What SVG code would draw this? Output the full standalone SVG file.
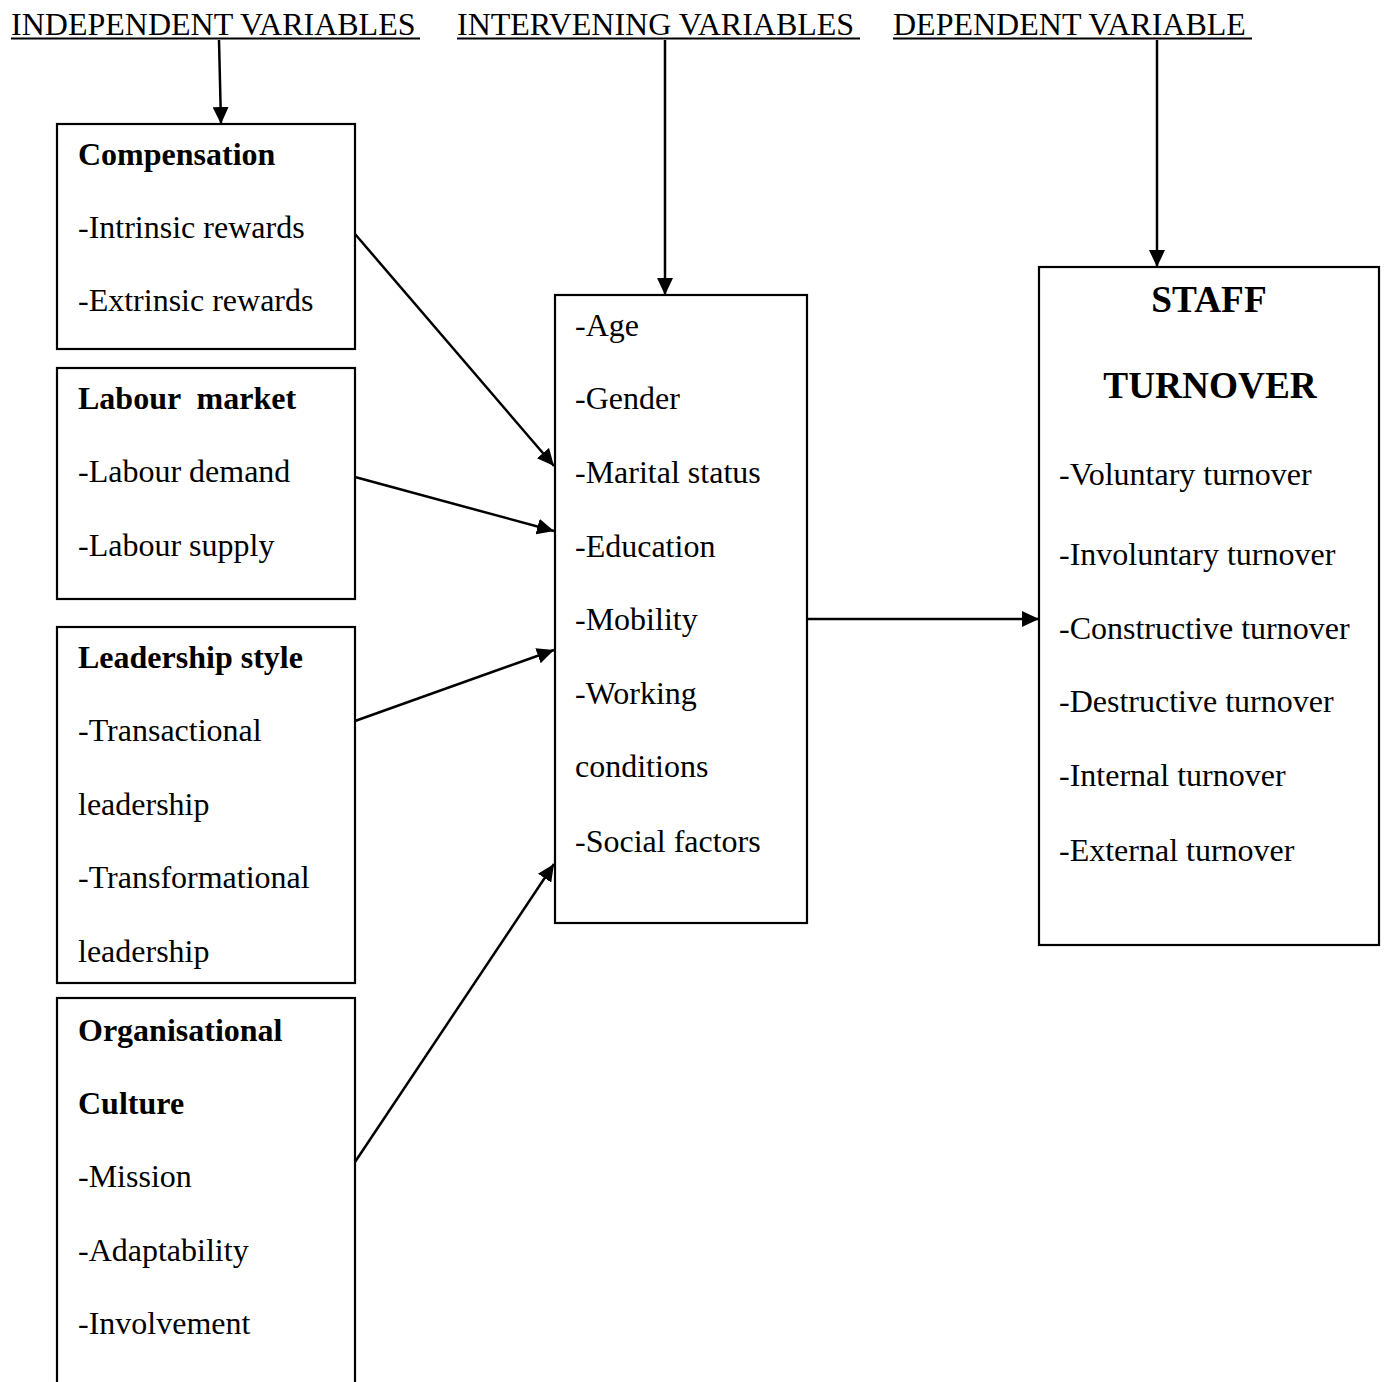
<svg xmlns="http://www.w3.org/2000/svg" width="1384" height="1382" viewBox="0 0 1384 1382">
<style>
text{font-family:"Liberation Serif","Times New Roman",serif;font-size:32px;fill:#000}
.b{font-weight:bold}
.t{font-weight:bold;font-size:37.3px;text-anchor:middle}
.box{fill:#fff;stroke:#000;stroke-width:2.2}
.ul{stroke:#000;stroke-width:2}
.c{stroke:#000;stroke-width:2.5;fill:none;marker-end:url(#ah)}
</style>
<defs>
<marker id="ah" markerUnits="userSpaceOnUse" markerWidth="18" markerHeight="16" refX="17" refY="8" orient="auto">
<path d="M0,0 L17,8 L0,16 Z" fill="#000"/>
</marker>
</defs>
<rect width="1384" height="1382" fill="#fff"/>
<g id="headers">
<text x="11" y="34.5">INDEPENDENT VARIABLES</text>
<line class="ul" x1="11" y1="38.5" x2="420" y2="38.5"/>
<text x="457" y="34.5">INTERVENING VARIABLES</text>
<line class="ul" x1="457" y1="38.5" x2="860" y2="38.5"/>
<text x="893" y="34.5">DEPENDENT VARIABLE</text>
<line class="ul" x1="893" y1="38.5" x2="1252" y2="38.5"/>
</g>
<g id="compensation">
<rect class="box" x="57" y="124" width="298" height="225"/>
<text class="b" x="78" y="165">Compensation</text>
<text x="78" y="238">-Intrinsic rewards</text>
<text x="78" y="311">-Extrinsic rewards</text>
</g>
<g id="labour-market">
<rect class="box" x="57" y="368" width="298" height="231"/>
<text class="b" x="78" y="409" xml:space="preserve">Labour  market</text>
<text x="78" y="482">-Labour demand</text>
<text x="78" y="556">-Labour supply</text>
</g>
<g id="leadership-style">
<rect class="box" x="57" y="627" width="298" height="356"/>
<text class="b" x="78" y="668">Leadership style</text>
<text x="78" y="741">-Transactional</text>
<text x="78" y="815">leadership</text>
<text x="78" y="888">-Transformational</text>
<text x="78" y="962">leadership</text>
</g>
<g id="organisational-culture">
<rect class="box" x="57" y="998" width="298" height="420"/>
<text class="b" x="78" y="1041">Organisational</text>
<text class="b" x="78" y="1114">Culture</text>
<text x="78" y="1187">-Mission</text>
<text x="78" y="1261">-Adaptability</text>
<text x="78" y="1334">-Involvement</text>
</g>
<g id="intervening">
<rect class="box" x="555" y="295" width="252" height="628"/>
<text x="575" y="336">-Age</text>
<text x="575" y="409">-Gender</text>
<text x="575" y="483">-Marital status</text>
<text x="575" y="557">-Education</text>
<text x="575" y="630">-Mobility</text>
<text x="575" y="704">-Working</text>
<text x="575" y="777">conditions</text>
<text x="575" y="852">-Social factors</text>
</g>
<g id="staff-turnover">
<rect class="box" x="1039" y="267" width="340" height="678"/>
<text class="t" x="1209" y="312">STAFF</text>
<text class="t" x="1210" y="398">TURNOVER</text>
<text x="1059" y="485">-Voluntary turnover</text>
<text x="1059" y="565">-Involuntary turnover</text>
<text x="1059" y="639">-Constructive turnover</text>
<text x="1059" y="712">-Destructive turnover</text>
<text x="1059" y="786">-Internal turnover</text>
<text x="1059" y="861">-External turnover</text>
</g>
<g id="connectors">
<line class="c" x1="219" y1="40" x2="221" y2="124"/>
<line class="c" x1="665" y1="40" x2="665" y2="295"/>
<line class="c" x1="1157" y1="40" x2="1157" y2="267"/>
<line class="c" x1="355" y1="234" x2="554" y2="466"/>
<line class="c" x1="355" y1="477" x2="554" y2="531"/>
<line class="c" x1="355" y1="721" x2="554" y2="650"/>
<line class="c" x1="355" y1="1162" x2="554" y2="864"/>
<line class="c" x1="807" y1="619" x2="1039" y2="619"/>
</g>
</svg>
